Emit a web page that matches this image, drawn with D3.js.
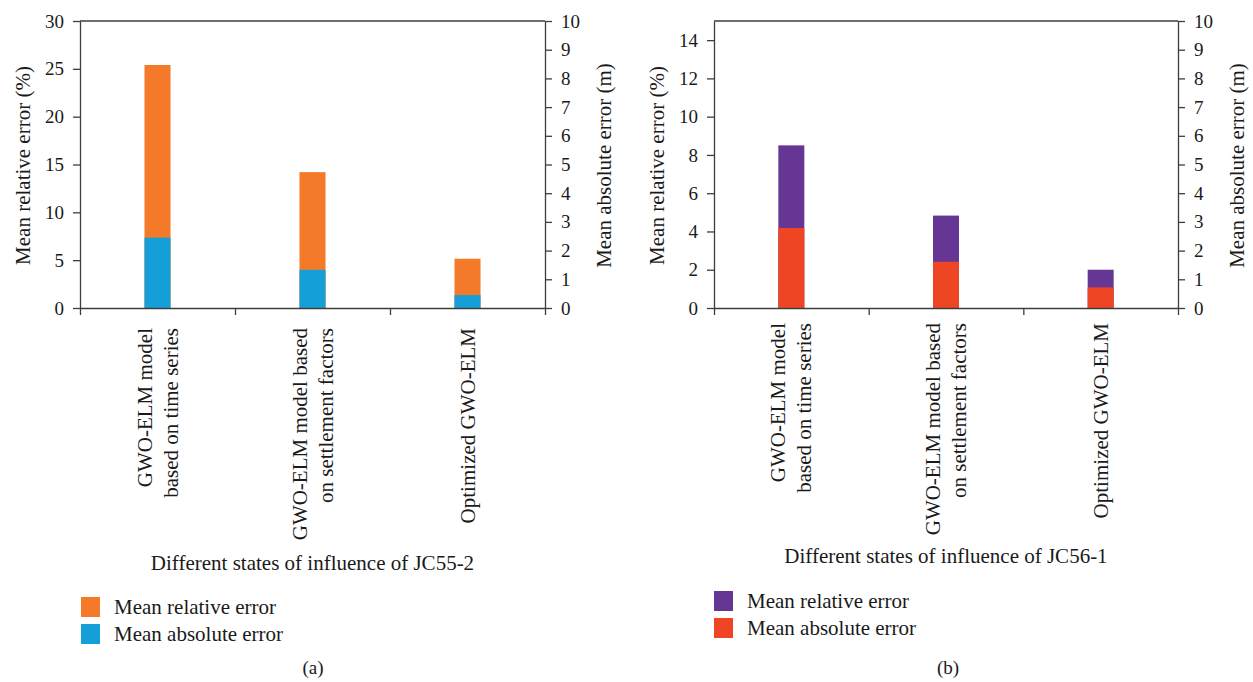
<!DOCTYPE html>
<html>
<head>
<meta charset="utf-8">
<script src="https://cdn.jsdelivr.net/npm/d3@7"></script>
<style>
  html, body { margin: 0; padding: 0; background: #fff; }
  svg { display: block; }
</style>
</head>
<body>
<svg id="chart" width="1253" height="682"></svg>
<script>
// Category labels (each entry is the list of lines of a rotated label)
const categoriesA = [
  ["GWO-ELM model", "based on time series"],
  ["GWO-ELM model based", "on settlement factors"],
  ["Optimized GWO-ELM"]
];
const categoriesB = [
  ["GWO-ELM model", "based on time series"],
  ["GWO-ELM model based", "on settlement factors"],
  ["Optimized GWO-ELM"]
];

// JC55-2: mean relative error (%) and mean absolute error (m)
const relErrorA = [25.4, 14.2, 5.15];
const absErrorA = [2.45, 1.33, 0.45];

// JC56-1: mean relative error (%) and mean absolute error (m)
const relErrorB = [8.5, 4.83, 2.0];
const absErrorB = [2.79, 1.61, 0.72];

// Axis ticks
const leftTicksA = [0, 5, 10, 15, 20, 25, 30];
const leftTicksB = [0, 2, 4, 6, 8, 10, 12, 14];
const rightTicks = [0, 1, 2, 3, 4, 5, 6, 7, 8, 9, 10];

const FONT = '"Liberation Serif", "Times New Roman", serif';
const TEXT_COLOR = "#1a1a1a";
const axisColor = "#3d3d3d";

const svg = d3.select("#chart");

function serif(sel, size) {
  return sel.style("font-family", FONT).style("font-size", size + "px").attr("fill", TEXT_COLOR);
}

function drawPanel(opts) {
  const g = svg.append("g");
  const { x0, x1, yTop, yBottom } = opts;

  const yLeft = d3.scaleLinear().domain(opts.leftDomain).range([yBottom, yTop]);
  const yRight = d3.scaleLinear().domain([0, 10]).range([yBottom, yTop]);
  const xBand = d3.scaleBand().domain(d3.range(opts.categories.length)).range([x0, x1]).padding(0);
  const xEdges = d3.scaleLinear().domain([0, opts.categories.length]).range([x0, x1]);
  const barW = xBand.bandwidth() * 0.168;

  // Relative-error bars (left axis)
  g.append("g").selectAll("rect")
    .data(opts.rel)
    .join("rect")
    .attr("x", (d, i) => xBand(i) + xBand.bandwidth() / 2 - barW / 2)
    .attr("width", barW)
    .attr("y", d => yLeft(d))
    .attr("height", d => yBottom - yLeft(d))
    .attr("fill", opts.relColor);

  // Absolute-error bars (right axis), drawn in front
  g.append("g").selectAll("rect")
    .data(opts.abs)
    .join("rect")
    .attr("x", (d, i) => xBand(i) + xBand.bandwidth() / 2 - barW / 2)
    .attr("width", barW)
    .attr("y", d => yRight(d))
    .attr("height", d => yBottom - yRight(d))
    .attr("fill", opts.absColor);

  // Top frame line
  g.append("line")
    .attr("x1", x0).attr("x2", x1)
    .attr("y1", yTop).attr("y2", yTop)
    .attr("stroke", axisColor).attr("stroke-width", 1.3);

  const styleAxis = sel => {
    sel.attr("font-family", null).attr("font-size", null);
    sel.selectAll("path.domain").attr("stroke", axisColor).attr("stroke-width", 1.3);
    sel.selectAll(".tick line").attr("stroke", axisColor).attr("stroke-width", 1.3);
    sel.selectAll(".tick text").call(serif, 19);
  };

  // Left axis
  g.append("g")
    .attr("transform", `translate(${x0},0)`)
    .call(d3.axisLeft(yLeft).tickValues(opts.leftTicks).tickSize(7).tickSizeOuter(0).tickPadding(9).tickFormat(d3.format("d")))
    .call(styleAxis);

  // Right axis
  g.append("g")
    .attr("transform", `translate(${x1},0)`)
    .call(d3.axisRight(yRight).tickValues(rightTicks).tickSize(7).tickSizeOuter(0).tickPadding(9).tickFormat(d3.format("d")))
    .call(styleAxis);

  // Bottom axis with ticks at category boundaries
  g.append("g")
    .attr("transform", `translate(0,${yBottom})`)
    .call(d3.axisBottom(xEdges).tickValues(d3.range(opts.categories.length + 1)).tickSize(7).tickSizeOuter(0).tickFormat(""))
    .call(styleAxis);

  // Rotated category labels
  const lineGap = 26;
  opts.categories.forEach((lines, i) => {
    const cx = xBand(i) + xBand.bandwidth() / 2;
    const n = lines.length;
    lines.forEach((ln, j) => {
      const off = (j - (n - 1) / 2) * lineGap;
      g.append("text")
        .attr("transform", `translate(${cx + off + 7},${opts.labelTop}) rotate(-90)`)
        .attr("text-anchor", "end")
        .call(serif, 21)
        .text(ln);
    });
  });

  // Axis titles
  g.append("text")
    .attr("transform", `translate(${opts.leftTitleX},${(yTop + yBottom) / 2 + 1}) rotate(-90)`)
    .attr("text-anchor", "middle")
    .attr("dy", "0.35em")
    .call(serif, 21)
    .text("Mean relative error (%)");

  g.append("text")
    .attr("transform", `translate(${opts.rightTitleX},${(yTop + yBottom) / 2 + 1}) rotate(-90)`)
    .attr("text-anchor", "middle")
    .attr("dy", "0.35em")
    .call(serif, 21)
    .text("Mean absolute error (m)");

  g.append("text")
    .attr("x", (x0 + x1) / 2)
    .attr("y", opts.xTitleY)
    .attr("text-anchor", "middle")
    .call(serif, 21)
    .text(opts.xTitle);

  // Legend
  const legend = [
    { label: "Mean relative error", color: opts.relColor },
    { label: "Mean absolute error", color: opts.absColor }
  ];
  legend.forEach((d, i) => {
    const y = opts.legendY + i * 27;
    g.append("rect")
      .attr("x", opts.legendX).attr("y", y - 10)
      .attr("width", 19).attr("height", 20)
      .attr("fill", d.color);
    g.append("text")
      .attr("x", opts.legendX + 33).attr("y", y)
      .attr("dy", "0.33em")
      .call(serif, 21)
      .text(d.label);
  });

  // Panel tag
  g.append("text")
    .attr("x", opts.tagX).attr("y", 668)
    .attr("dy", "0.33em")
    .attr("text-anchor", "middle")
    .call(serif, 19)
    .text(opts.tag);
}

drawPanel({
  x0: 80, x1: 545, yTop: 21, yBottom: 308,
  leftDomain: [0, 30], leftTicks: leftTicksA,
  categories: categoriesA, rel: relErrorA, abs: absErrorA,
  relColor: "#f47a2a", absColor: "#159fd9",
  labelTop: 328, leftTitleX: 23, rightTitleX: 604,
  xTitle: "Different states of influence of JC55-2", xTitleY: 570,
  legendX: 81, legendY: 607, tag: "(a)", tagX: 313
});

drawPanel({
  x0: 714, x1: 1178, yTop: 21, yBottom: 308,
  leftDomain: [0, 15], leftTicks: leftTicksB,
  categories: categoriesB, rel: relErrorB, abs: absErrorB,
  relColor: "#663695", absColor: "#ee4624",
  labelTop: 323, leftTitleX: 657, rightTitleX: 1237,
  xTitle: "Different states of influence of JC56-1", xTitleY: 563,
  legendX: 714, legendY: 601, tag: "(b)", tagX: 948
});
</script>
</body>
</html>
